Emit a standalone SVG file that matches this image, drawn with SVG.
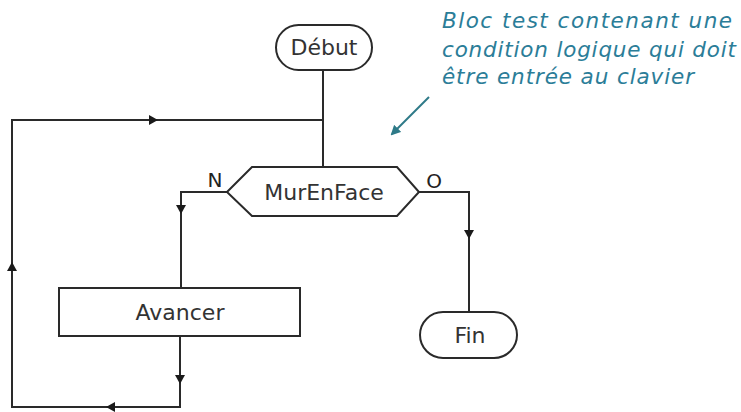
<svg xmlns="http://www.w3.org/2000/svg" width="741" height="412" viewBox="0 0 741 412">
<defs>
<style>
.shape{fill:#fff;stroke:#2a2a2a;stroke-width:2}
.line{fill:none;stroke:#2a2a2a;stroke-width:2}
.lbl{font-family:"DejaVu Sans","Verdana",sans-serif;font-size:22px;fill:#333;text-anchor:middle}
.side{font-family:"DejaVu Sans","Verdana",sans-serif;font-size:20px;fill:#222}
.note{font-family:"DejaVu Sans","Verdana",sans-serif;font-style:italic;font-size:21.5px;fill:#2b7d98}
.ah{fill:#1a1a1a}
</style>
<path id="ah" d="M0,0 L-9,-5 L-9,5 Z"/>
<marker id="tealhead" markerWidth="10" markerHeight="10" refX="8" refY="5" orient="auto" markerUnits="userSpaceOnUse">
<path d="M0,0 L10,5 L0,10 Z" fill="#2e7a88"/>
</marker>
</defs>
<rect width="741" height="412" fill="#fff"/>
<g id="connectors">
<path class="line" d="M323,70 V167"/>
<path class="line" d="M323,120 H12 V407 H180 V336"/>
<path class="line" d="M227,192 H181 V288"/>
<path class="line" d="M419,192 H469 V312"/>
<use href="#ah" class="ah" transform="translate(158,120)"/>
<use href="#ah" class="ah" transform="translate(181,214) rotate(90)"/>
<use href="#ah" class="ah" transform="translate(180,384) rotate(90)"/>
<use href="#ah" class="ah" transform="translate(106,407) rotate(180)"/>
<use href="#ah" class="ah" transform="translate(12,262) rotate(-90)"/>
<use href="#ah" class="ah" transform="translate(469,239) rotate(90)"/>
<text class="side" x="215" y="187" text-anchor="middle">N</text>
<text class="side" x="434" y="188" text-anchor="middle">O</text>
<line x1="429" y1="97" x2="392" y2="134" stroke="#2e7a88" stroke-width="2" marker-end="url(#tealhead)"/>
</g>
<g id="debut">
<rect class="shape" x="276" y="25" width="96" height="45" rx="22.5"/>
<text class="lbl" x="324" y="55">Début</text>
</g>
<g id="murenface">
<polygon class="shape" points="227,192 252,167 397,167 419,192 397,216 252,216"/>
<text class="lbl" x="324" y="200">MurEnFace</text>
</g>
<g id="avancer">
<rect class="shape" x="59" y="288" width="241" height="48"/>
<text class="lbl" x="180" y="320">Avancer</text>
</g>
<g id="fin">
<rect class="shape" x="420" y="312" width="97" height="46" rx="23"/>
<text class="lbl" x="470" y="343">Fin</text>
</g>
<g id="note">
<text class="note" x="442" y="28" textLength="290" lengthAdjust="spacing">Bloc test contenant une</text>
<text class="note" x="442" y="57" textLength="294" lengthAdjust="spacing">condition logique qui doit</text>
<text class="note" x="442" y="84" textLength="252" lengthAdjust="spacing">être entrée au clavier</text>
</g>
</svg>
